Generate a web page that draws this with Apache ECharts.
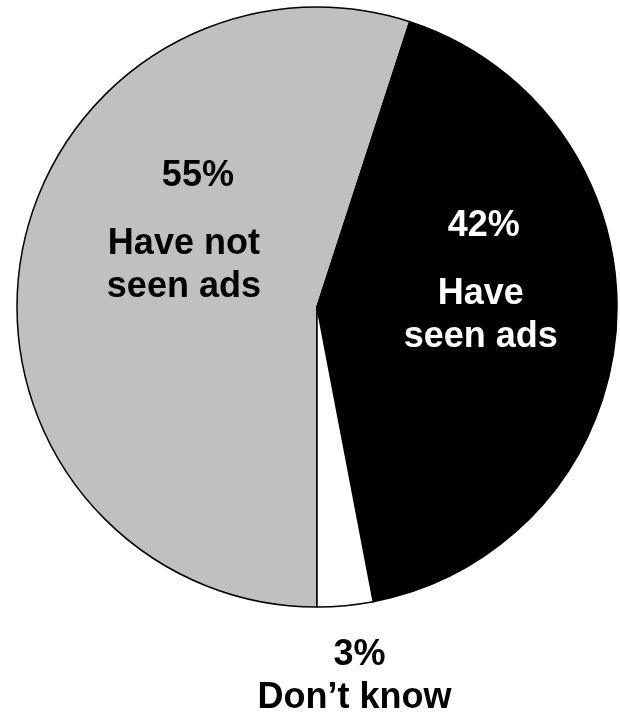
<!DOCTYPE html>
<html>
<head>
<meta charset="utf-8">
<script src="https://cdn.jsdelivr.net/npm/echarts@6/dist/echarts.min.js"></script>
<style>
  html, body { margin: 0; padding: 0; background: #ffffff; }
  #chart { width: 620px; height: 714px; }
</style>
</head>
<body>
<div id="chart"></div>
<script>
// ---- data ----
var categories = ['Have not seen ads', 'Have seen ads', 'Don\u2019t know'];
var labelLines = [['Have not', 'seen ads'], ['Have', 'seen ads'], ['Don\u2019t know']];
var values = [55, 42, 3];

// ---- styles (kept apart from data) ----
var sliceColors = ['#c0c0c0', '#000000', '#ffffff'];
var textColors = ['#000000', '#ffffff', '#000000'];
var labelOffsets = [[18, -64], [11, -48], [23, 217]];
var pctLineHeights = [93, 93, 44];
var pctPadLeft = [28, 6, 10];
var FONT = '"Liberation Sans", Arial, Helvetica, sans-serif';

var seriesData = categories.map(function (name, i) {
  return {
    name: name,
    value: values[i],
    itemStyle: { color: sliceColors[i] },
    label: {
      offset: labelOffsets[i],
      color: textColors[i],
      formatter: function () {
        var s = '{p' + i + '|' + values[i] + '%}';
        labelLines[i].forEach(function (l) { s += '\n{n|' + l + '}'; });
        return s;
      }
    }
  };
});

var rich = { n: { fontSize: 36, fontWeight: 'bold', fontFamily: FONT, lineHeight: 43, align: 'center' } };
for (var i = 0; i < values.length; i++) {
  rich['p' + i] = {
    fontSize: 36, fontWeight: 'bold', fontFamily: FONT,
    lineHeight: pctLineHeights[i], align: 'center',
    padding: [0, 0, 0, pctPadLeft[i]]
  };
}

var chart = echarts.init(document.getElementById('chart'), null, { renderer: 'canvas' });
chart.setOption({
  backgroundColor: '#ffffff',
  animation: false,
  series: [{
    type: 'pie',
    center: [317, 307],
    radius: 300,
    startAngle: 270,
    clockwise: true,
    avoidLabelOverlap: false,
    minShowLabelAngle: 0,
    itemStyle: { borderColor: '#000000', borderWidth: 1.5 },
    emphasis: { disabled: true },
    label: {
      show: true,
      position: 'inside',
      fontFamily: FONT,
      fontWeight: 'bold',
      fontSize: 36,
      rich: rich
    },
    labelLine: { show: false },
    data: seriesData
  }]
});
</script>
</body>
</html>
